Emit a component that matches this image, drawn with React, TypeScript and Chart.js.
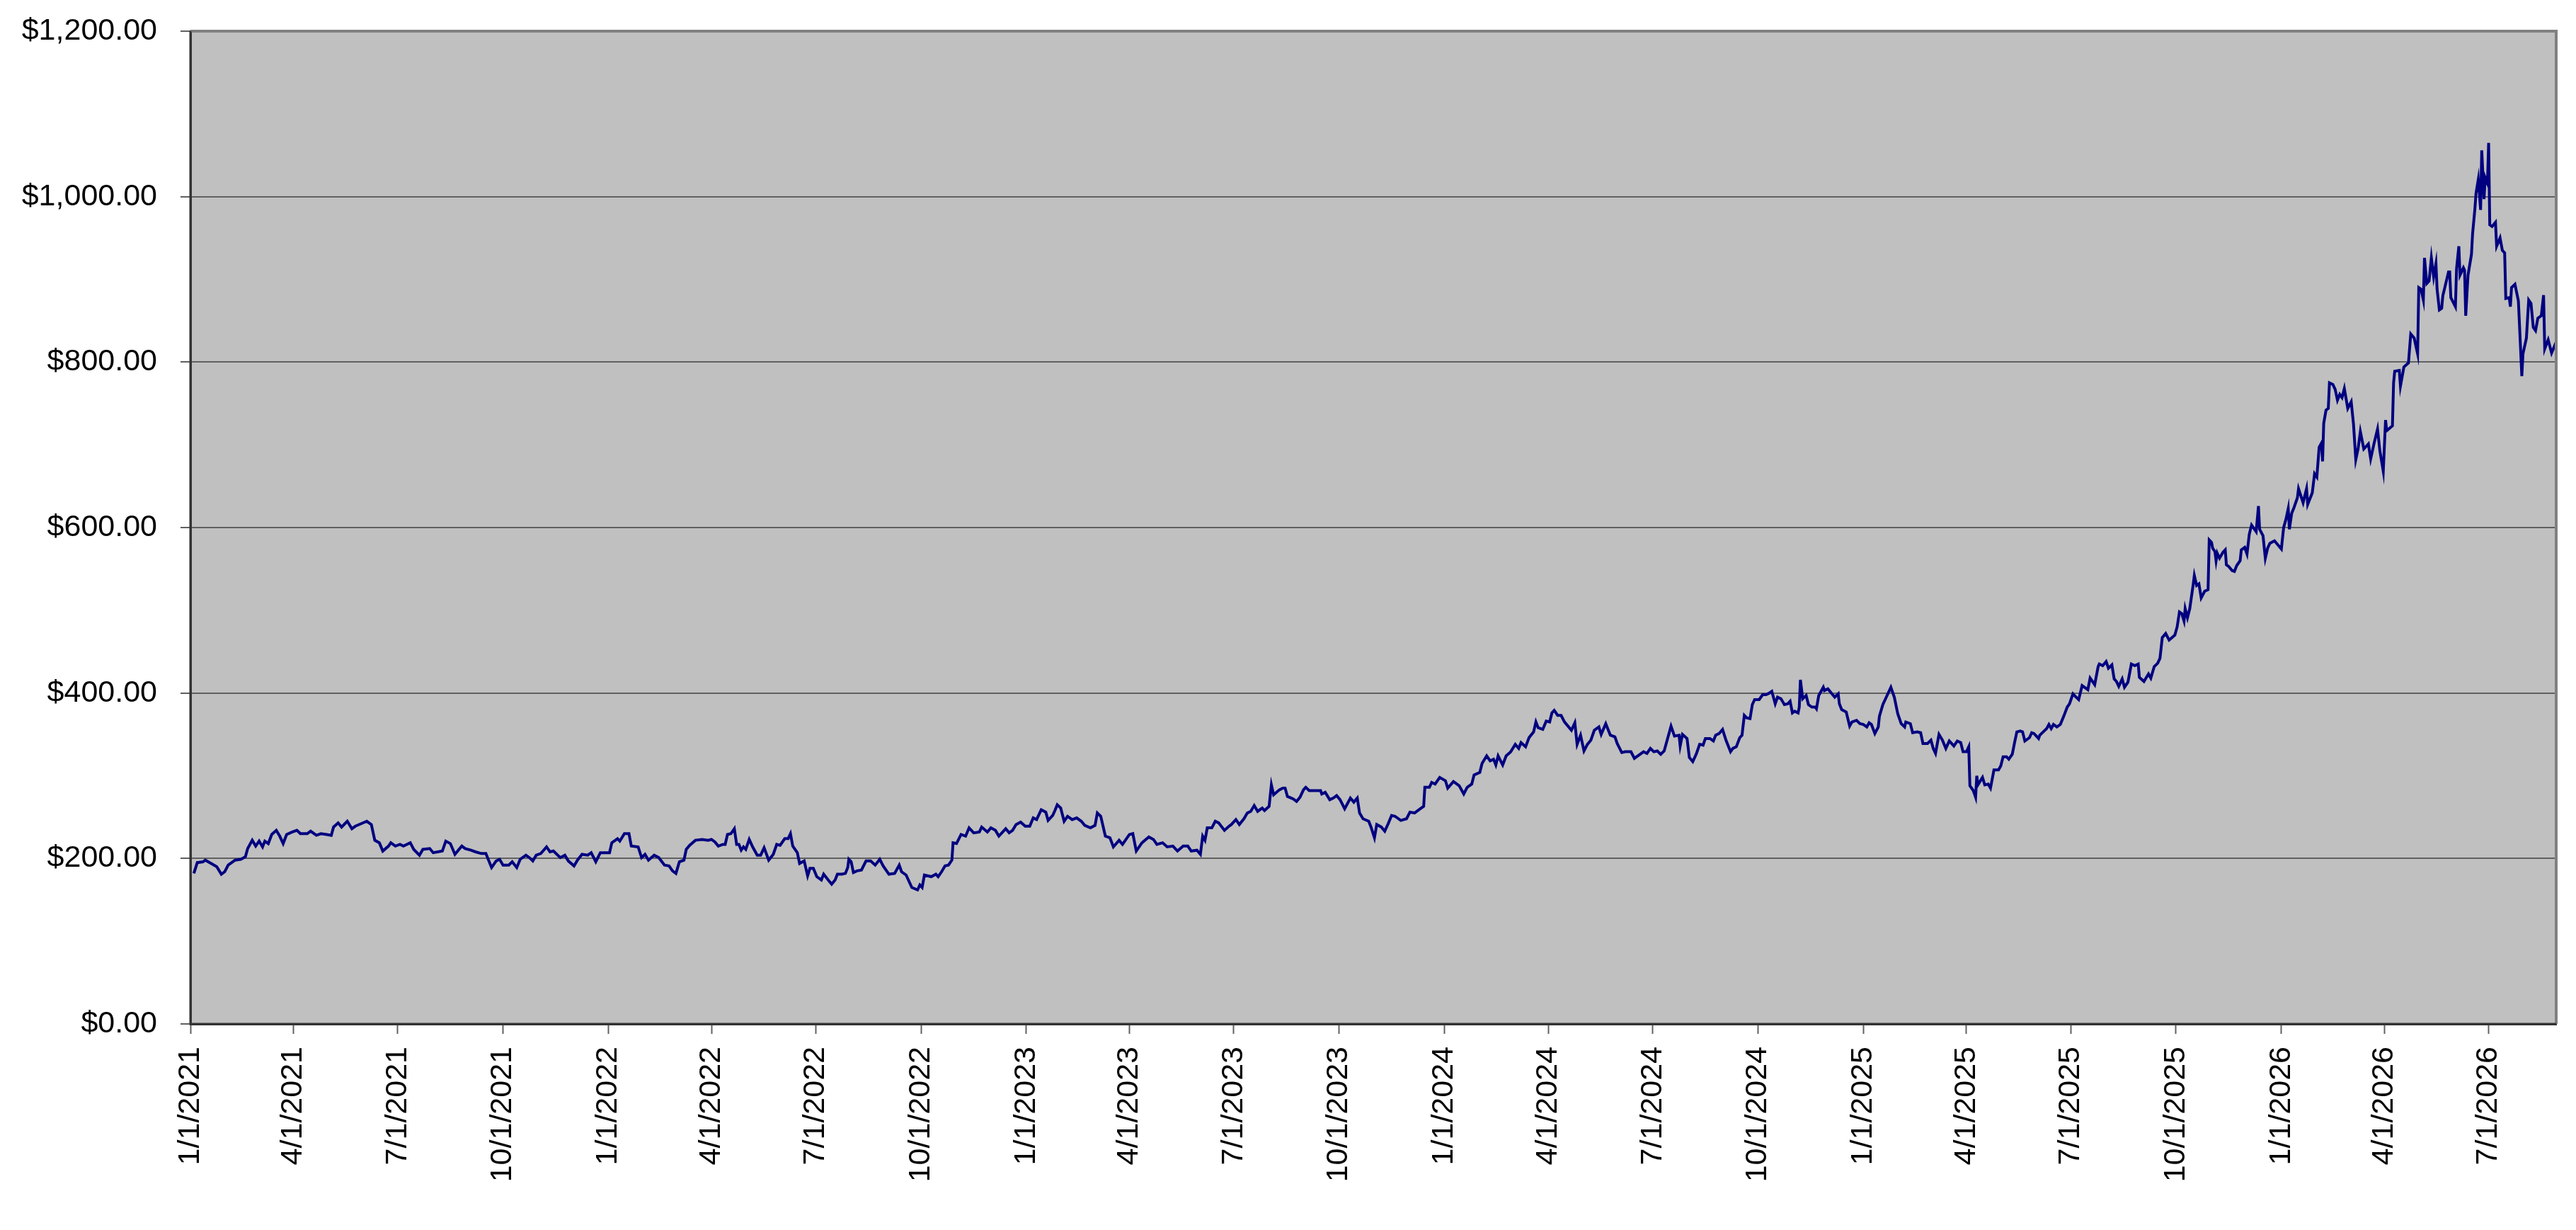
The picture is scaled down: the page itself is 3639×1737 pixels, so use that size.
import React, { useEffect, useRef } from "react";
import { Chart, registerables } from "chart.js";

Chart.register(...registerables);

// ---- Data ----
// Trading-day offsets counted in days from 1/1/2021
const dayOffsets: number[] = [
  3, 6, 11, 13, 18, 23, 27, 30, 33, 39, 44, 48, 50, 54, 57, 60, 63, 65, 68, 71,
  75, 78, 81, 84, 89, 93, 96, 102, 105, 110, 114, 119, 123, 125, 129, 132, 137, 141, 144, 149,
  154, 158, 161, 165, 168, 173, 175, 179, 183, 186, 192, 195, 200, 203, 209, 212, 216, 220, 223, 227,
  231, 237, 240, 245, 249, 254, 258, 263, 267, 270, 273, 278, 281, 285, 288, 293, 296, 299, 302, 306,
  311, 314, 317, 323, 327, 330, 335, 338, 342, 347, 350, 354, 358, 366, 368, 373, 375, 379, 383, 385,
  391, 394, 397, 400, 405, 409, 414, 418, 421, 424, 427, 431, 433, 436, 441, 447,
  452, 455, 458, 461, 465, 467, 469, 472, 475, 477, 479, 481, 483, 485, 488, 491, 495, 498, 501, 505,
  509, 512, 515, 519, 522, 524, 526, 530, 532, 536, 539, 541, 544, 547, 551, 553, 557, 560, 563, 565,
  569, 572, 574, 575, 577, 579, 582, 586, 590, 594, 598, 602, 605, 610, 615, 619, 621, 625, 630, 635,
  637, 639, 641, 647, 651, 653, 656, 659, 662, 665, 666, 669, 673, 677, 680, 684, 689, 691, 696, 699,
  703, 706, 712, 715, 718, 721, 725, 729, 733, 736, 739, 743, 747, 749, 753, 755, 757, 760, 763, 766,
  770, 774, 778, 781, 786, 790, 792, 795, 799, 803, 806, 811, 814, 820, 823, 826, 831, 837, 841, 844,
  849, 853, 858, 862, 867, 871, 874, 879, 882, 884, 886, 888, 892, 895, 898, 903, 907,
  909, 913, 916, 920, 923, 926, 929, 932, 936, 938, 942, 944, 946, 951, 954, 956, 958, 963, 966, 969,
  972, 974, 977, 983, 987, 988, 991, 995, 998, 1001, 1004, 1008, 1013, 1016, 1019, 1021, 1024, 1029, 1031, 1034,
  1036, 1040, 1043, 1046, 1049, 1052, 1057, 1062, 1065, 1069, 1074, 1077, 1078, 1082, 1084, 1087, 1091, 1096, 1098, 1103,
  1108, 1112, 1115, 1119, 1121, 1126, 1128, 1132, 1135, 1138, 1140, 1142, 1146, 1149, 1153, 1157, 1160, 1162, 1166, 1169,
  1173, 1175, 1177, 1181, 1184, 1187, 1189, 1191, 1194, 1197, 1200, 1203, 1206, 1209, 1211, 1214, 1217, 1220, 1223, 1226,
  1230, 1232, 1236, 1240, 1244, 1246, 1250, 1253, 1258, 1261, 1266, 1269, 1272, 1275, 1278, 1281, 1284, 1287, 1290, 1293,
  1296, 1300, 1301, 1303, 1307, 1309, 1312, 1315, 1318, 1321, 1323, 1327, 1330, 1332, 1335, 1338, 1341, 1345, 1347, 1350,
  1353, 1355, 1357, 1359, 1362, 1364, 1366, 1370, 1373, 1376,
  1379, 1381, 1384, 1386, 1389, 1392, 1395, 1397, 1399, 1401, 1404, 1405, 1406, 1408, 1411, 1413, 1416, 1419, 1420, 1422,
  1426, 1427, 1430, 1433, 1436, 1439, 1440, 1442, 1446, 1449, 1451, 1455, 1458, 1461, 1464, 1466, 1468, 1471, 1474, 1475,
  1478, 1481, 1485, 1488, 1491, 1494, 1497, 1498, 1502, 1504, 1508, 1511, 1513, 1517, 1520, 1522, 1524, 1527, 1530, 1533,
  1536, 1540, 1543, 1546, 1548, 1551, 1553, 1554, 1557, 1559, 1560, 1561, 1565, 1567, 1570, 1572, 1575, 1579, 1581, 1583,
  1586, 1588, 1591, 1593, 1595, 1598, 1600, 1602, 1606, 1608, 1610, 1614, 1615, 1618, 1621, 1623, 1625, 1627, 1630, 1633,
  1636, 1639, 1641, 1644, 1646, 1649, 1652, 1655, 1657, 1659, 1663, 1666, 1667, 1670, 1673, 1675, 1678, 1680, 1682, 1684,
  1687, 1689, 1692, 1695, 1698, 1701, 1702, 1706, 1710, 1712, 1715, 1718, 1720, 1722, 1725, 1728, 1733, 1735, 1737, 1739,
  1741, 1742, 1744, 1746,
  1749, 1750, 1752, 1754, 1756, 1759, 1762, 1763, 1765, 1766, 1768, 1769, 1770, 1772, 1775, 1777, 1778, 1780, 1783, 1785,
  1787, 1790, 1791, 1794, 1796, 1798, 1800, 1802, 1804, 1806, 1807, 1810, 1812, 1814, 1816, 1820, 1823, 1826, 1828, 1830,
  1832, 1833, 1835, 1837, 1840, 1841, 1845, 1848, 1849, 1853, 1855, 1857, 1859, 1861, 1862, 1863, 1865, 1867, 1868, 1871,
  1873, 1875, 1877, 1879, 1881, 1882, 1884, 1887, 1889, 1891, 1893, 1895, 1898, 1902, 1904, 1907, 1910, 1912, 1915, 1917,
  1918, 1923, 1924, 1925, 1929, 1930, 1933, 1937, 1939, 1942, 1945, 1946, 1948, 1950, 1951, 1953, 1955, 1957, 1959, 1961,
  1962, 1964, 1966, 1967, 1972, 1973, 1974, 1978, 1979, 1981, 1982, 1985, 1986, 1987, 1989, 1992, 1993, 1995, 1996, 1998,
  2000, 2001, 2003, 2004, 2006, 2007, 2008, 2010, 2013, 2014, 2017, 2019, 2021, 2022, 2025, 2026, 2027, 2030, 2033, 2036,
  2037, 2040, 2042, 2044, 2046, 2048, 2050, 2053, 2055, 2056, 2059, 2062, 2065, 2066,
];

// Closing value ($) for each of the days above
const prices: number[] = [
  182, 195, 196, 198, 194, 190, 181, 184, 192, 198, 199, 202, 212, 222, 215, 221, 214, 221, 218, 229,
  234, 227, 218, 229, 232, 234, 230, 230, 233, 228, 230, 229, 228, 238, 243, 238, 245, 236, 239, 242,
  245, 241, 222, 219, 209, 215, 219, 215, 217, 215, 219, 211, 204, 211, 212, 207, 208, 209, 221, 218,
  205, 215, 212, 210, 208, 206, 206, 189, 197, 199, 192, 192, 196, 189, 199, 204, 201, 197, 204, 206,
  214, 208, 209, 201, 204, 197, 191, 198, 205, 204, 207, 196, 207, 207, 219, 224, 221, 230, 230, 215,
  214, 201, 205, 198, 204, 201, 192, 191, 185, 182, 196, 198, 211, 216, 222, 223,
  222, 223, 220, 215, 217, 217, 229, 230, 236, 217, 217, 210, 214, 211, 223, 214, 204, 204, 213, 198,
  205, 217, 216, 224, 224, 230, 215, 207, 194, 197, 179, 188, 188, 178, 174, 181, 174, 169, 174, 181,
  181, 182, 189, 199, 196, 183, 185, 186, 197, 197, 192, 199, 191, 181, 182, 192, 184, 180, 165, 162,
  168, 165, 180, 178, 181, 178, 184, 191, 192, 198, 219, 218, 229, 227, 237, 231, 232, 238, 232, 237,
  234, 227, 236, 231, 234, 241, 244, 239, 239, 249, 247, 259, 256, 246, 252, 258, 265, 261, 245, 251,
  247, 249, 245, 240, 237, 240, 255, 251, 227, 225, 214, 222, 217, 229, 230, 209, 219, 226, 223, 217,
  219, 214, 215, 209, 215, 215, 209, 210, 205, 227, 222, 237, 237, 245, 243, 234, 239,
  241, 247, 241, 248, 255, 257, 264, 257, 261, 258, 263, 289, 277, 283, 285, 285, 275, 272, 269, 274,
  283, 286, 282, 282, 282, 278, 280, 271, 273, 276, 271, 260, 273, 268, 273, 255, 248, 245, 238, 225,
  241, 238, 233, 242, 252, 251, 246, 248, 256, 255, 260, 263, 286, 286, 292, 290, 298, 294, 285, 293,
  288, 278, 286, 290, 301, 304, 315, 324, 318, 320, 313, 324, 313, 324, 329, 338, 333, 340, 335, 346,
  353, 365, 358, 356, 366, 365, 376, 379, 373, 373, 365, 360, 355, 364, 338, 349, 330, 338, 343, 355,
  359, 350, 363, 349, 347, 339, 328, 329, 329, 321, 326, 329, 327, 333, 329, 330, 326, 330, 345, 360,
  348, 349, 336, 350, 345, 322, 317, 326, 338, 337, 345, 345, 342, 349, 351, 356, 343, 329, 333, 335,
  346, 349, 373, 370, 369, 386, 392, 392, 398, 398,
  400, 402, 387, 395, 393, 386, 387, 390, 376, 378, 376, 383, 416, 393, 397, 386, 383, 383, 381, 397,
  407, 403, 405, 400, 395, 399, 387, 380, 377, 360, 365, 367, 363, 362, 359, 364, 362, 351, 359, 372,
  386, 395, 407, 395, 375, 363, 359, 365, 363, 352, 353, 352, 339, 339, 343, 333, 327, 350, 343, 333,
  342, 336, 342, 340, 329, 329, 335, 288, 282, 274, 300, 289, 298, 289, 290, 285, 307, 307, 312, 323,
  323, 320, 326, 340, 353, 354, 353, 342, 346, 352, 351, 345, 349, 353, 357, 362, 357, 362, 359, 362,
  372, 383, 387, 399, 396, 392, 409, 406, 404, 418, 410, 432, 435, 433, 438, 430, 434, 417, 414, 408,
  417, 407, 413, 435, 433, 435, 419, 414, 423, 418, 432, 436, 442, 467, 472, 464, 470, 480, 498, 496,
  487, 502, 491, 502,
  531, 542, 530, 532, 515, 523, 525, 585, 582, 575, 571, 560, 569, 563, 570, 573, 555, 553, 548, 547,
  554, 560, 573, 576, 568, 592, 603, 599, 595, 626, 598, 590, 563, 575, 581, 584, 579, 574, 600, 610,
  623, 598, 617, 624, 636, 647, 630, 647, 628, 642, 665, 661, 697, 702, 680, 726, 742, 744, 775, 773,
  767, 754, 761, 757, 768, 760, 744, 752, 725, 682, 695, 716, 695, 701, 683, 702, 719, 693, 668, 730,
  717, 723, 775, 789, 790, 771, 794, 799, 834, 829, 810, 890, 888, 875, 926, 895, 898, 926, 903, 919,
  888, 863, 865, 880, 909, 909, 878, 867, 913, 940, 905, 914, 911, 856, 905, 930, 955, 985, 1004, 1021,
  984, 1056, 997, 1023, 1016, 1065, 966, 964, 969, 940, 950, 935, 932, 877, 878, 867, 890, 894, 874, 783,
  810, 829, 875, 871, 842, 838, 853, 856, 881, 816, 827, 811, 821, 817,
];

// Quarterly date labels on the horizontal axis
const xTickLabels: string[] = [
  "1/1/2021", "4/1/2021", "7/1/2021", "10/1/2021",
  "1/1/2022", "4/1/2022", "7/1/2022", "10/1/2022",
  "1/1/2023", "4/1/2023", "7/1/2023", "10/1/2023",
  "1/1/2024", "4/1/2024", "7/1/2024", "10/1/2024",
  "1/1/2025", "4/1/2025", "7/1/2025", "10/1/2025",
  "1/1/2026", "4/1/2026", "7/1/2026",
];

// Value axis ticks
const yTickValues: number[] = [0, 200, 400, 600, 800, 1000, 1200];

const START_UTC = Date.UTC(2021, 0, 1);
const LAST_DAY = 2066;

function labelToDay(label: string): number {
  const [m, d, y] = label.split("/").map(Number);
  return Math.round((Date.UTC(y, m - 1, d) - START_UTC) / 86400000);
}

function money(v: number): string {
  return "$" + v.toLocaleString("en-US", { minimumFractionDigits: 2, maximumFractionDigits: 2 });
}

const FONT_FAMILY = "'Liberation Sans', Arial, Helvetica, sans-serif";

const plotFrame = {
  id: "plotFrame",
  beforeDraw(chart: any) {
    const { ctx, chartArea: a } = chart;
    ctx.save();
    ctx.fillStyle = "#C0C0C0";
    ctx.fillRect(a.left, a.top, a.right - a.left, a.bottom - a.top);
    ctx.restore();
  },
  afterDraw(chart: any) {
    const { ctx, chartArea: a } = chart;
    ctx.save();
    ctx.strokeStyle = "#808080";
    ctx.lineWidth = 4;
    ctx.beginPath();
    ctx.moveTo(a.left, a.top);
    ctx.lineTo(a.right, a.top);
    ctx.lineTo(a.right, a.bottom);
    ctx.stroke();
    ctx.strokeStyle = "#333333";
    ctx.lineWidth = 3;
    ctx.beginPath();
    ctx.moveTo(a.left, a.top);
    ctx.lineTo(a.left, a.bottom);
    ctx.lineTo(a.right, a.bottom);
    ctx.stroke();
    ctx.restore();
  },
};

export default function App() {
  const canvasRef = useRef<HTMLCanvasElement | null>(null);

  useEffect(() => {
    const canvas = canvasRef.current;
    if (!canvas) return;
    const n = Math.min(dayOffsets.length, prices.length);
    const points = [];
    for (let i = 0; i < n; i++) points.push({ x: dayOffsets[i], y: prices[i] });
    const tickDays = xTickLabels.map(labelToDay);
    const labelByDay: Record<number, string> = {};
    xTickLabels.forEach((l, i) => (labelByDay[tickDays[i]] = l));

    const chart = new Chart(canvas, {
      type: "line",
      data: {
        datasets: [
          {
            data: points,
            borderColor: "#000080",
            borderWidth: 4,
            pointRadius: 0,
            tension: 0,
            fill: false,
          },
        ],
      },
      plugins: [plotFrame],
      options: {
        animation: false,
        responsive: false,
        devicePixelRatio: 1,
        layout: { padding: { top: 44, right: 28, left: 0, bottom: 0 } },
        plugins: { legend: { display: false }, tooltip: { enabled: false } },
        scales: {
          x: {
            type: "linear",
            min: 0,
            max: LAST_DAY,
            afterBuildTicks: (scale: any) => {
              scale.ticks = tickDays.map((v) => ({ value: v }));
            },
            afterFit: (scale: any) => {
              scale.height = 291;
              scale.paddingTop = 0;
              scale.paddingBottom = 0;
              scale.paddingLeft = 0;
              scale.paddingRight = 0;
            },
            ticks: {
              autoSkip: false,
              minRotation: 90,
              maxRotation: 90,
              padding: 18,
              color: "#000000",
              font: { family: FONT_FAMILY, size: 43 },
              callback: (v: any) => labelByDay[Math.round(Number(v))] ?? "",
            },
            grid: {
              drawOnChartArea: false,
              drawTicks: true,
              tickLength: 14,
              tickColor: "#606060",
              tickWidth: 2,
            },
            border: { display: true, color: "#333333", width: 3 },
          },
          y: {
            type: "linear",
            min: 0,
            max: 1200,
            afterBuildTicks: (scale: any) => {
              scale.ticks = yTickValues.map((v) => ({ value: v }));
            },
            afterFit: (scale: any) => {
              scale.width = 269;
              scale.paddingTop = 0;
              scale.paddingBottom = 0;
              scale.paddingLeft = 0;
              scale.paddingRight = 0;
            },
            ticks: {
              padding: 33,
              color: "#000000",
              font: { family: FONT_FAMILY, size: 43 },
              callback: (v: any) => money(Number(v)),
            },
            grid: {
              color: "#606060",
              lineWidth: 2,
              drawTicks: true,
              tickLength: 14,
              tickColor: "#606060",
              tickWidth: 2,
            },
            border: { display: true, color: "#333333", width: 3 },
          },
        },
      },
    });
    return () => chart.destroy();
  }, []);

  return (
    <div style={{ position: "absolute", left: 0, top: 0, width: 3639, height: 1737, background: "#ffffff" }}>
      <canvas ref={canvasRef} width={3639} height={1737} style={{ width: 3639, height: 1737, display: "block" }} />
    </div>
  );
}
